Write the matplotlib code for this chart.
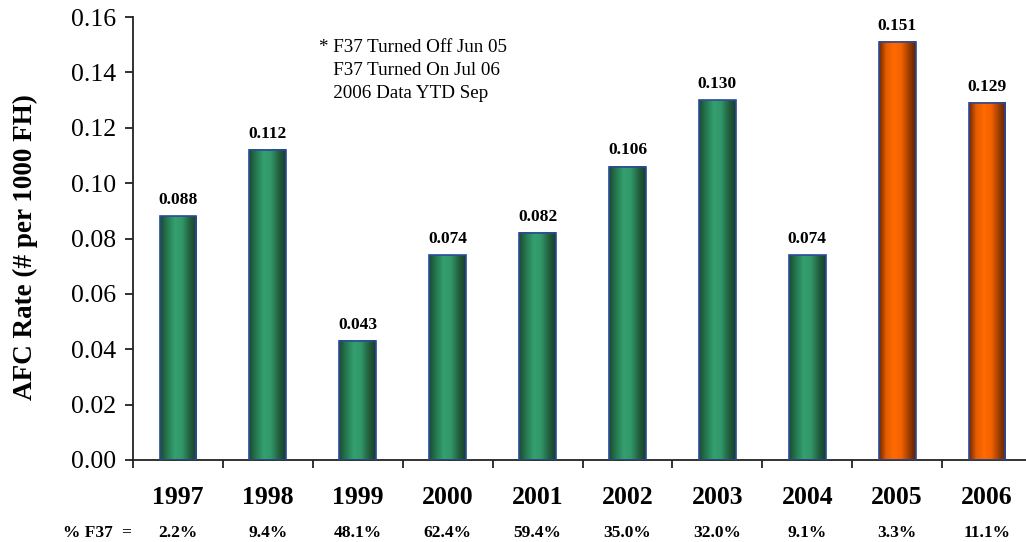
import numpy as np
import matplotlib
matplotlib.use("Agg")
import matplotlib.pyplot as plt
from matplotlib.colors import LinearSegmentedColormap

years = ["1997", "1998", "1999", "2000", "2001", "2002", "2003", "2004", "2005", "2006"]
afc_rate = [0.088, 0.112, 0.043, 0.074, 0.082, 0.106, 0.130, 0.074, 0.151, 0.129]
pct_f37 = ["2.2%", "9.4%", "48.1%", "62.4%", "59.4%", "35.0%", "32.0%", "9.1%", "3.3%", "11.1%"]
highlight_years = ["2005", "2006"]
note_lines = ["* F37 Turned Off Jun 05", "   F37 Turned On Jul 06", "   2006 Data YTD Sep"]

serif = ["Liberation Serif", "DejaVu Serif"]
plt.rcParams["font.family"] = serif

fig = plt.figure(figsize=(10.26, 5.42), dpi=100)
ax = fig.add_axes([133 / 1026, 82 / 542, 899 / 1026, 443 / 542])

green_cmap = LinearSegmentedColormap.from_list(
    "green_cyl", ["#1b4a2f", "#267a52", "#34a06e", "#31966a", "#22623f", "#173d28"])
orange_cmap = LinearSegmentedColormap.from_list(
    "orange_cyl", ["#6e2800", "#e65c00", "#ff6a00", "#f56200", "#a33f00", "#5a2200"])
grad = np.linspace(0, 1, 256).reshape(1, -1)

x = np.arange(len(years))
width = 0.41
for xi, yr, v in zip(x, years, afc_rate):
    cmap = orange_cmap if yr in highlight_years else green_cmap
    ax.imshow(grad, cmap=cmap, aspect="auto",
              extent=(xi - width / 2, xi + width / 2, 0, v), zorder=2)
ax.bar(x, afc_rate, width=width, facecolor="none",
       edgecolor="#2b4a9c", linewidth=1.2, zorder=3)
for xi, v in zip(x, afc_rate):
    ax.text(xi, v + 0.003, f"{v:.3f}", ha="center", va="bottom",
            fontsize=12.5, fontweight="bold", zorder=4)

ax.set_xlim(-0.5, len(years) - 0.5)
ax.set_ylim(0, 0.16)
yt = np.arange(0, 0.161, 0.02)
ax.set_yticks(yt)
ax.set_yticklabels([f"{t:.2f}" for t in yt], fontsize=18.5)
ax.set_xticks(np.arange(-0.5, len(years), 1.0))
ax.set_xticklabels([])
ax.tick_params(axis="both", direction="out", length=6, width=1.3, color="#222222")
ax.tick_params(axis="y", pad=6)
for s in ["top", "right"]:
    ax.spines[s].set_visible(False)
for s in ["left", "bottom"]:
    ax.spines[s].set_linewidth(1.3)
    ax.spines[s].set_color("#222222")

for xi, yr, p in zip(x, years, pct_f37):
    ax.text(xi, -0.0135, yr, ha="center", va="center", fontsize=18.5,
            fontweight="bold", clip_on=False)
    ax.text(xi, -0.0262, p, ha="center", va="center", fontsize=12.5,
            fontweight="bold", clip_on=False)
ax.text(-1.28, -0.0262, "% F37", ha="left", va="center", fontsize=12.5,
        fontweight="bold", clip_on=False)
ax.text(-0.58, -0.0262, "=", ha="center", va="center", fontsize=12.5,
        fontweight="bold", clip_on=False)

ax.set_ylabel("AFC Rate (# per 1000 FH)", fontsize=19.5, fontweight="bold",
              va="center")
ax.yaxis.set_label_coords(-0.12, 0.48)

for i, line in enumerate(note_lines):
    fig.text(319 / 1026, 1 - (48 + 22.5 * i) / 542, line, ha="left", va="center",
             fontsize=13.7)

fig.savefig("out.png", dpi=100)
